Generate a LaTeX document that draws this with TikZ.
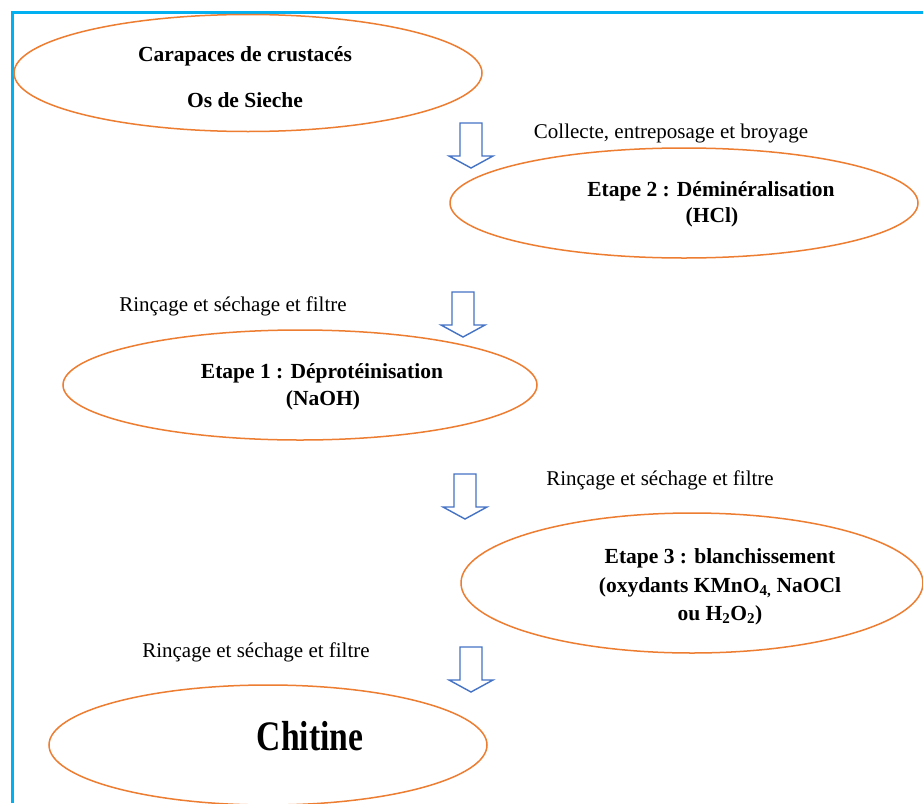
\documentclass[tikz,border=0pt]{standalone}
\usepackage{fontspec}
\setmainfont{Liberation Serif}
\usetikzlibrary{shapes.geometric}
\definecolor{ellorange}{HTML}{ED7D31}
\definecolor{arrblue}{HTML}{4472C4}
\definecolor{frameblue}{HTML}{00B0F0}
\begin{document}
\begin{tikzpicture}[x=1pt,y=-1pt,
  stage/.style={draw=ellorange, line width=1.5pt, ellipse, inner sep=0pt},
  boldtxt/.style={font=\fontsize{21.5}{27}\selectfont\bfseries, anchor=base, inner sep=0pt},
  note/.style={font=\fontsize{21}{25}\selectfont, anchor=base, inner sep=0pt},
  blockarr/.pic={\draw[draw=arrblue, line width=1.4pt, fill=white, line join=miter]
     (-11,0) -- (11,0) -- (11,33) -- (22,33) -- (0,45) -- (-22,33) -- (-11,33) -- cycle;}
]
\useasboundingbox (0,0) rectangle (923,803);
\fill[white] (0,0) rectangle (923,803);
\draw[frameblue, line width=3pt] (12,803) -- (12,12) -- (923,12);

% ellipses
\node[stage, minimum width=468pt, minimum height=117pt] (e1) at (248,73) {};
\node[stage, minimum width=468pt, minimum height=110pt] (e2) at (684,203) {};
\node[stage, minimum width=474pt, minimum height=110pt] (e3) at (300,385) {};
\node[stage, minimum width=462pt, minimum height=140pt] (e4) at (692,583) {};
\node[stage, minimum width=438pt, minimum height=120pt] (e5) at (268,745) {};

% texts in ellipses
\node[boldtxt] (t1a) at (245,61) {Carapaces de crustacés};
\node[boldtxt] (t1b) at (245,107) {Os de Sieche};
\node[boldtxt] (t2a) at (711,196) {Etape 2 : Déminéralisation};
\node[boldtxt] (t2b) at (712,222) {(HCl)};
\node[boldtxt] (t3a) at (322,378) {Etape 1 : Déprotéinisation};
\node[boldtxt] (t3b) at (323,405) {(NaOH)};
\node[boldtxt] (t4a) at (720,563) {Etape 3 : blanchissement};
\node[boldtxt] (t4b) at (720,592) {(oxydants KMnO\textsubscript{4,} NaOCl};
\node[boldtxt] (t4c) at (720,620) {ou H\textsubscript{2}O\textsubscript{2})};
\node[anchor=base, inner sep=0pt, font=\fontsize{42}{48}\selectfont\bfseries] (t5) at (310,750) {\scalebox{0.8}[1]{Chitine}};

% step labels
\node[note] (l1) at (671,138) {Collecte, entreposage et broyage};
\node[note] (l2) at (233,311) {Rinçage et séchage et filtre};
\node[note] (l3) at (660,485) {Rinçage et séchage et filtre};
\node[note] (l4) at (256,657) {Rinçage et séchage et filtre};

% block arrows
\pic (a1) at (471,123) {blockarr};
\pic (a2) at (463,292) {blockarr};
\pic (a3) at (465,474) {blockarr};
\pic (a4) at (471,647) {blockarr};
\end{tikzpicture}
\end{document}
